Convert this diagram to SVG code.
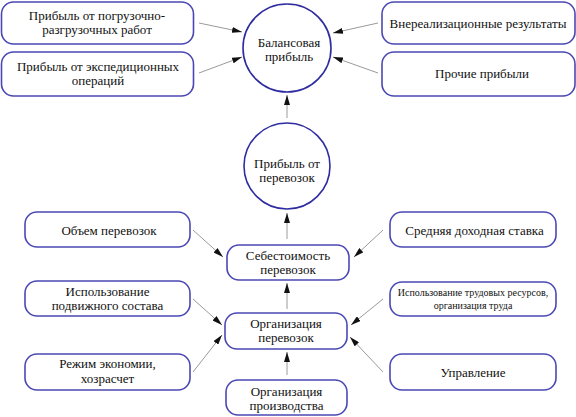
<svg xmlns="http://www.w3.org/2000/svg" width="576" height="417" viewBox="0 0 576 417">
<defs>
<style>
.box{fill:#fff;stroke:#4a48b4;stroke-width:1.6}
.circ{fill:#fff;stroke:#2e2ca0;stroke-width:1.6}
.t{font-family:'Liberation Serif','Times New Roman',serif;font-size:13px;fill:#111;text-anchor:middle}
.s{font-size:10px}
.c line{stroke:#9a9a9a;stroke-width:1;marker-end:url(#ah)}
</style>
<marker id="ah" viewBox="0 0 10 6" refX="10" refY="3" markerWidth="10" markerHeight="6" markerUnits="userSpaceOnUse" orient="auto">
<path d="M0,0 L10,3 L0,6 Z" fill="#111"/>
</marker>
</defs>
<rect width="576" height="417" fill="#fff"/>
<g id="connectors" class="c">
<line x1="199" y1="23" x2="242" y2="32"/>
<line x1="199" y1="73" x2="242" y2="57"/>
<line x1="378" y1="23" x2="333" y2="33"/>
<line x1="378" y1="73" x2="333" y2="57"/>
<line x1="287" y1="118" x2="287" y2="95"/>
<line x1="287" y1="239" x2="287" y2="213"/>
<line x1="287" y1="309" x2="287" y2="283"/>
<line x1="287" y1="375" x2="287" y2="352"/>
<line x1="193" y1="230" x2="223" y2="257"/>
<line x1="193" y1="299" x2="222" y2="325"/>
<line x1="193" y1="372" x2="222" y2="335"/>
<line x1="383" y1="230" x2="354" y2="257"/>
<line x1="383" y1="299" x2="351" y2="325"/>
<line x1="383" y1="372" x2="350" y2="337"/>
</g>
<g id="n1"><rect class="box" x="1.5" y="2" width="192" height="42" rx="12"/>
<text class="t" x="97" y="19.5">Прибыль от погрузочно-</text><text class="t" x="97" y="33.5">разгрузочных работ</text></g>
<g id="n2"><rect class="box" x="1.5" y="52" width="192" height="44" rx="12"/>
<text class="t" x="98" y="71" font-size="13.5">Прибыль от экспедиционных</text><text class="t" x="98" y="85">операций</text></g>
<g id="n3"><rect class="box" x="382" y="2" width="193" height="42" rx="12"/>
<text class="t" x="478" y="27.5" font-size="13.4">Внереализационные результаты</text></g>
<g id="n4"><rect class="box" x="382" y="52" width="193" height="44" rx="12"/>
<text class="t" x="482" y="78">Прочие прибыли</text></g>
<g id="n5"><circle class="circ" cx="287" cy="48" r="44"/>
<text class="t" x="289" y="47">Балансовая</text><text class="t" x="289" y="61">прибыль</text></g>
<g id="n6"><circle class="circ" cx="287" cy="166" r="43"/>
<text class="t" x="287" y="168">Прибыль от</text><text class="t" x="287" y="182">перевозок</text></g>
<g id="n7"><rect class="box" x="25" y="212" width="165" height="35" rx="12"/>
<text class="t" x="109" y="234.5">Объем перевозок</text></g>
<g id="n8"><rect class="box" x="25" y="281" width="165" height="35" rx="12"/>
<text class="t" x="107.5" y="295.5">Использование</text><text class="t" x="107.5" y="309.5">подвижного состава</text></g>
<g id="n9"><rect class="box" x="25" y="354" width="165" height="36" rx="12"/>
<text class="t" x="107.5" y="368">Режим экономии,</text><text class="t" x="107.5" y="383">хозрасчет</text></g>
<g id="n10"><rect class="box" x="227" y="245" width="122" height="35" rx="12"/>
<text class="t" x="288" y="260">Себестоимость</text><text class="t" x="288" y="274">перевозок</text></g>
<g id="n11"><rect class="box" x="225" y="313" width="122" height="36" rx="12"/>
<text class="t" x="286" y="328">Организация</text><text class="t" x="286" y="342">перевозок</text></g>
<g id="n12"><rect class="box" x="226" y="380" width="121" height="35" rx="12"/>
<text class="t" x="286.5" y="396">Организация</text><text class="t" x="286.5" y="410">производства</text></g>
<g id="n13"><rect class="box" x="390" y="212" width="166" height="35" rx="12"/>
<text class="t" x="474.5" y="234.5">Средняя доходная ставка</text></g>
<g id="n14"><rect class="box" x="390" y="282" width="166" height="34" rx="12"/>
<text class="t s" x="473" y="295.5">Использование трудовых ресурсов,</text><text class="t s" x="473" y="308.5">организация труда</text></g>
<g id="n15"><rect class="box" x="390" y="354" width="166" height="36" rx="12"/>
<text class="t" x="473" y="376.5">Управление</text></g>
</svg>
